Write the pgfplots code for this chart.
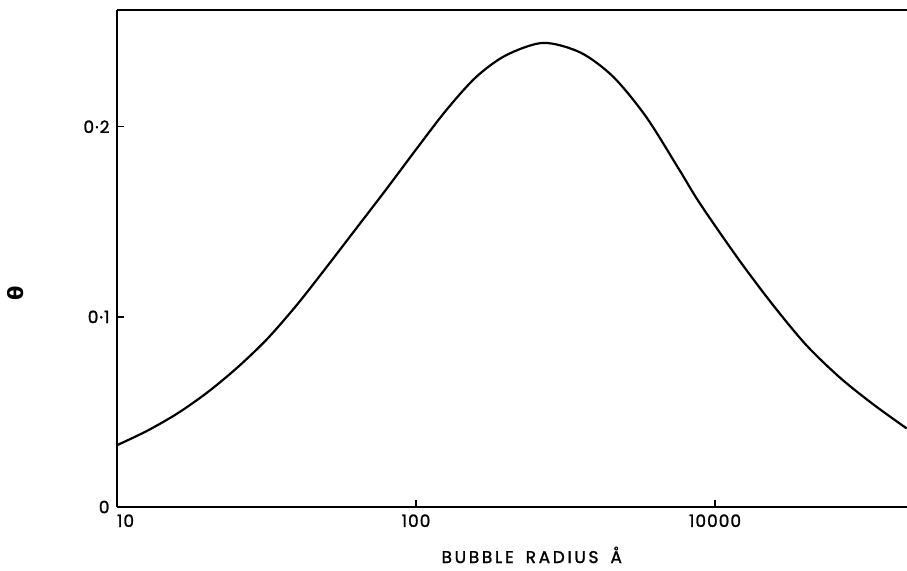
\documentclass[border=0pt]{standalone}
\usepackage{fontspec}
\setmainfont{Poppins}
\newfontfamily\greekfont{DejaVu Sans}
\usepackage{pgfplots}
\pgfplotsset{compat=1.18}
\begin{document}
\begin{tikzpicture}
\begin{axis}[
  at={(117bp,64bp)}, anchor=south west,
  scale only axis, width=790bp, height=497bp,
  xmin=1, xmax=3.642, ymin=0, ymax=0.2614,
  axis lines=left,
  axis line style={-, line width=1.9bp, black},
  xtick={1,2,3}, xticklabels={\makebox[0pt][l]{10},100,10000},
  ytick={0,0.1,0.2}, yticklabels={0,0·1,0·2},
  tick align=inside,
  major tick length=7bp,
  every tick/.style={line width=1.5bp, black},
  tick label style={font=\fontsize{17}{17}\selectfont\addfontfeature{LetterSpace=6,FakeBold=1.5}},
  xticklabel style={yshift=-4bp},
  yticklabel style={xshift=-4bp},
  xlabel={\addfontfeature{LetterSpace=16,FakeBold=1.5}BUBBLE\hspace{12bp}RADIUS\hspace{12bp}Å},
  xlabel style={at={(axis description cs:0.525,0)}, anchor=base, yshift=-56bp, font=\fontsize{17}{17}\selectfont},
  ylabel={\greekfont θ},
  ylabel style={at={(axis description cs:-0.128,0.43)}, anchor=center, font=\fontsize{21}{21}\selectfont\bfseries},
  clip=true,
]
\addplot[black, line width=2.2bp, smooth] coordinates {
(1.000,0.0325) (1.100,0.0400) (1.200,0.0490) (1.300,0.0600) (1.400,0.0730)
(1.500,0.0880) (1.600,0.1060) (1.700,0.1260) (1.800,0.1465) (1.900,0.1670)
(2.000,0.1880) (2.100,0.2085) (2.200,0.2260) (2.300,0.2375) (2.425,0.2441)
(2.550,0.2390) (2.660,0.2262) (2.770,0.2051) (2.880,0.1775) (2.950,0.1595)
(3.080,0.1300) (3.195,0.1060) (3.306,0.0850) (3.418,0.0680) (3.529,0.0540)
(3.641,0.0413)
};
\draw[line width=1.9bp, black] (rel axis cs:0,1) -- (rel axis cs:1,1);
\end{axis}
\pgfresetboundingbox
\path (0,0) rectangle (907bp,571bp);
\end{tikzpicture}
\end{document}
